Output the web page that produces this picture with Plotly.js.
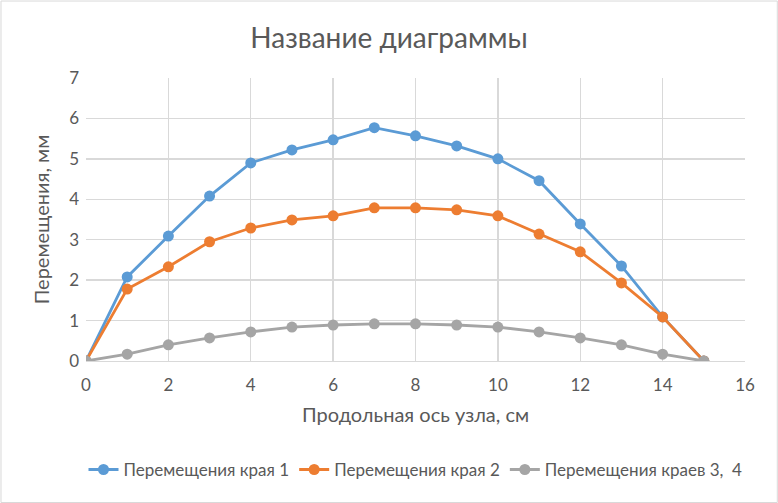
<!DOCTYPE html>
<html><head><meta charset="utf-8">
<script src="https://cdn.plot.ly/plotly-3.0.1.min.js"></script>
<style>html,body{margin:0;padding:0;background:#fff}#chart{width:778px;height:503px}</style>
</head><body><div id="chart"></div>
<script>
const xs = [0,1,2,3,4,5,6,7,8,9,10,11,12,13,14,15];
const edge1 = [0,2.08,3.09,4.08,4.9,5.22,5.47,5.77,5.57,5.32,5.0,4.46,3.39,2.35,1.09,0];
const edge2 = [0,1.78,2.33,2.95,3.29,3.49,3.59,3.79,3.79,3.74,3.59,3.14,2.70,1.93,1.09,0];
const edge34 = [0,0.17,0.40,0.57,0.72,0.84,0.89,0.92,0.92,0.89,0.84,0.72,0.57,0.40,0.17,0];
const names = ["Перемещения края 1","Перемещения края 2","Перемещения краев 3,  4"];
const colors = ["#5B9BD5","#ED7D31","#A5A5A5"];
const series = [edge1, edge2, edge34];
const font = "Lato, sans-serif";
const traces = series.map((s,i)=>({
  x: xs, y: s, name: names[i], type:'scatter', mode:'lines+markers',
  line:{color:colors[i], width:2.8}, marker:{color:colors[i], size:11}
}));
const layout = {
  width:778, height:503, paper_bgcolor:'#fff', plot_bgcolor:'#fff',
  margin:{l:86, r:33, t:78, b:142, autoexpand:false},
  font:{family:font, color:'#595959', size:17},
  title:{text:'Название диаграммы', font:{size:28, color:'#595959', family:font}, x:0.5, xanchor:'center', y:0.925, yanchor:'middle', automargin:false},
  xaxis:{range:[0,16], dtick:2, tick0:0, showgrid:true, gridcolor:'#D9D9D9', gridwidth:1.3, zeroline:false, automargin:false,
    showline:true, linecolor:'#D9D9D9', linewidth:1.3, ticks:'', ticklabelstandoff:8, tickfont:{size:17, color:'#595959'},
    title:{text:'Продольная ось узла, см', font:{size:20, color:'#595959'}, standoff:14}},
  yaxis:{range:[0,7], dtick:1, showgrid:true, gridcolor:'#D9D9D9', gridwidth:1.3, zeroline:false, automargin:false,
    showline:false, ticks:'', ticklabelstandoff:6, tickfont:{size:17, color:'#595959'},
    title:{text:'Перемещения, мм', font:{size:20, color:'#595959'}, standoff:14}},
  legend:{orientation:'h', x:0.5, xanchor:'center', y:-0.385, yanchor:'middle', font:{size:17, color:'#595959'}, itemwidth:30, tracegroupgap:0},
  showlegend:true,
  shapes:[{type:'rect', xref:'paper', yref:'paper', x0:-0.129, x1:1.049, y0:-0.5, y1:1.272, line:{color:'#D9D9D9', width:1}}]
};
Plotly.newPlot('chart', traces, layout, {displayModeBar:false, staticPlot:true});
</script></body></html>
